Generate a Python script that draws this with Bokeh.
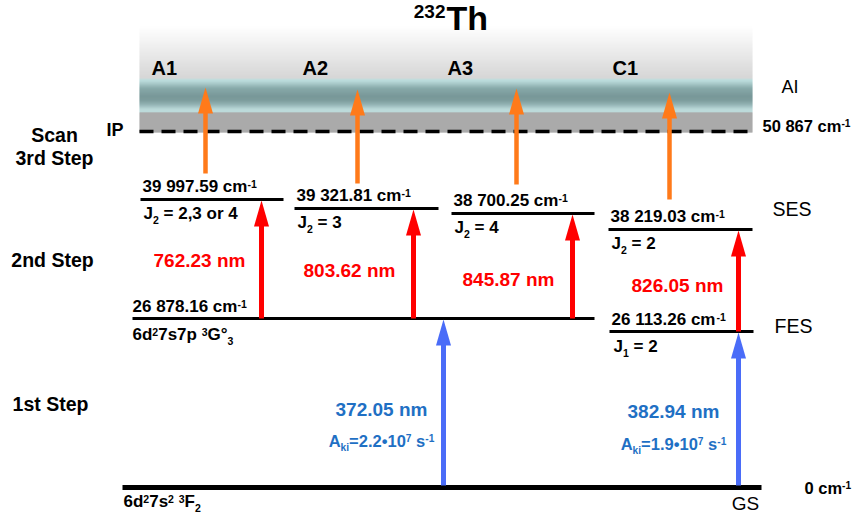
from bokeh.plotting import figure
from bokeh.models import Range1d, ColumnDataSource
from bokeh.core.properties import value
from bokeh.embed import file_html
from bokeh.resources import INLINE
import numpy as np

# ---------------- data ----------------
element_mass = "232"
element = "Th"
ip_energy = "50 867"
gs_energy = "0"
schemes = ["A1", "A2", "A3", "C1"]
ses_energy = ["39 997.59", "39 321.81", "38 700.25", "38 219.03"]
ses_j = ["2,3 or 4", "3", "4", "2"]
step2_nm = ["762.23", "803.62", "845.87", "826.05"]
fes_energy = ["26 878.16", "26 113.26"]
step1_nm = ["372.05", "382.94"]
step1_aki = ["2.2", "1.9"]
step_names = ["Scan", "3rd Step", "2nd Step", "1st Step"]
state_names = ["AI", "SES", "FES", "GS"]

# ---------------- layout (schematic, screen px) ----------------
SES_Y = [199, 208, 213, 229]
SES_X0 = [140, 294, 451, 608]
SES_X1 = [283, 438, 594, 752]
FES_Y = [318, 331]
FES_X0 = [132, 609]
FES_X1 = [594, 753]
SCHEME_FES = [0, 0, 0, 1]
GS_Y, GS_X0, GS_X1 = 487, 122, 761
IP_Y, BAND_X0, BAND_X1 = 131, 139, 752
RED_X = [261, 413, 572, 738]
ORANGE_X = [205, 357, 516, 669]
ORANGE_B = [173, 183, 184, 199]
ORANGE_T = [87, 89, 88, 92]
BLUE_X = [443, 738]
BLUE_FES = [0, 1]
RED_LBL = [(199, 268), (349, 278), (508, 287), (677, 293)]
BLUE_LBL = [(381, 417, 447), (673, 419, 450)]
SCHEME_LBL_X = [151, 302, 447, 612]

RED = "#ff0000"
ORANGE = "#ff7a1a"
BLUE = "#4a6cf8"
BLUE_TXT = "#1f70c4"
FONT = "Liberation Sans"
BASE_FIX = 0.4  # empirical baseline correction of the svg text renderer

W = {' ': 278, '.': 278, ',': 278, '=': 584, '-': 333, '•': 350, '°': 400,
     'A': 722, 'C': 722, 'F': 611, 'G': 778, 'I': 278, 'J': 556, 'P': 667, 'S': 667,
     'T': 611, 'c': 556, 'd': 611, 'e': 556, 'h': 611, 'i': 278, 'k': 556, 'm': 889,
     'n': 611, 'o': 611, 'p': 611, 'r': 389, 's': 556, 't': 333}
for d in "0123456789":
    W[d] = 556


def tw(s, size):
    return sum(W.get(ch, 556) for ch in s) / 1000.0 * size


p = figure(width=856, height=519, x_range=Range1d(0, 856), y_range=Range1d(519, 0),
           output_backend="svg", toolbar_location=None, x_axis_type=None, y_axis_type=None,
           min_border=0, outline_line_color=None, background_fill_color="white")
p.grid.visible = False

# ---------------- gradient band (AI continuum) ----------------
stops_y = [26, 78, 79, 81, 88, 96, 100, 104, 109, 112, 112.01, 132]
stops_c = [(255, 255, 255), (200, 200, 200), (170, 212, 212), (160, 204, 204), (96, 140, 140),
           (76, 118, 119), (82, 124, 125), (110, 152, 153), (165, 205, 205), (165, 205, 205),
           (142, 142, 142), (142, 142, 142)]
ys = np.arange(26, 132, 1.0)
cols = []
for yv in ys:
    c = [np.interp(yv + 0.5, stops_y, [s[k] for s in stops_c]) for k in range(3)]
    cols.append("#%02x%02x%02x" % tuple(int(round(v)) for v in c))
p.quad(left=BAND_X0, right=BAND_X1, top=ys, bottom=ys + 1.05, fill_color=cols, line_color=None)

# IP dashed line
p.segment(x0=[BAND_X0], y0=[IP_Y], x1=[BAND_X1], y1=[IP_Y], line_color="black",
          line_width=3.5, line_dash="14 8")

# ---------------- level lines ----------------
p.segment(x0=SES_X0, y0=SES_Y, x1=SES_X1, y1=SES_Y, line_color="black", line_width=3)
p.segment(x0=FES_X0, y0=FES_Y, x1=FES_X1, y1=FES_Y, line_color="black", line_width=3)
p.segment(x0=[GS_X0], y0=[GS_Y], x1=[GS_X1], y1=[GS_Y], line_color="black", line_width=5)

# ---------------- arrows ----------------
HEAD_W, HEAD_L, SHAFT = 15, 26, 5


def arrows(xs, y_from, y_to, color, shaft=SHAFT):
    p.segment(x0=xs, y0=y_from, x1=xs, y1=[t + HEAD_L - 1 for t in y_to],
              line_color=color, line_width=shaft, line_cap="butt")
    px = [[x - HEAD_W / 2, x + HEAD_W / 2, x] for x in xs]
    py = [[t + HEAD_L, t + HEAD_L, t] for t in y_to]
    p.patches(xs=px, ys=py, fill_color=color, line_color=None)


arrows(ORANGE_X, ORANGE_B, ORANGE_T, ORANGE, shaft=4.5)
arrows(RED_X, [FES_Y[f] for f in SCHEME_FES], [y + 1 for y in SES_Y], RED)
arrows(BLUE_X, [GS_Y - 2] * 2, [FES_Y[f] + 1 for f in BLUE_FES], BLUE)

# ---------------- rich text helper ----------------
rich_bold = dict(x=[], y=[], text=[], size=[], color=[])
rich_norm = dict(x=[], y=[], text=[], size=[], color=[])


def rich(x, y, segs, size, color="black", align="left", bold=True):
    parts = []
    for s, kind in segs:
        if kind == "n":
            parts.append((s, size, 0.0))
        elif kind == "sup":
            parts.append((s, size * 0.62, -0.34 * size))
        else:
            parts.append((s, size * 0.62, 0.22 * size))
    total = sum(tw(s, sz) for s, sz, _ in parts)
    cx = x - total / 2 if align == "center" else (x - total if align == "right" else x)
    tgt = rich_bold if bold else rich_norm
    for s, sz, dy in parts:
        lead = len(s) - len(s.lstrip(" "))
        core = s.strip(" ")
        if core:
            tgt["x"].append(cx + tw(" " * lead, sz))
            tgt["y"].append(y + dy - BASE_FIX * sz)
            tgt["text"].append(core)
            tgt["size"].append("%.1fpx" % sz)
            tgt["color"].append(color)
        cx += tw(s, sz)


# title
rich(446, 31, [(element, "n")], 34)
rich(445, 19, [(element_mass, "n")], 19, align="right")

# scheme labels
for i, s in enumerate(schemes):
    rich(SCHEME_LBL_X[i], 75, [(s, "n")], 20)

# SES labels
for i in range(4):
    rich(SES_X0[i] + 2, SES_Y[i] - 6, [(ses_energy[i] + " cm", "n"), ("-1", "sup")], 17)
    rich(SES_X0[i] + 3, SES_Y[i] + 21, [("J", "n"), ("2", "sub"), (" = " + ses_j[i], "n")], 17)

# FES labels
rich(FES_X0[0], FES_Y[0] - 5, [(fes_energy[0] + " cm", "n"), ("-1", "sup")], 17)
rich(FES_X0[0], FES_Y[0] + 23, [("6d", "n"), ("2", "sup"), ("7s7p ", "n"), ("3", "sup"),
                                 ("G°", "n"), ("3", "sub")], 17)
rich(FES_X0[1] + 2, FES_Y[1] - 5, [(fes_energy[1] + " cm", "n"), ("-1", "sup")], 17)
rich(FES_X0[1] + 4, FES_Y[1] + 22, [("J", "n"), ("1", "sub"), (" = 2", "n")], 17)

# GS term
rich(GS_X0 + 1, 508, [("6d", "n"), ("2", "sup"), ("7s", "n"), ("2", "sup"), (" ", "n"),
                      ("3", "sup"), ("F", "n"), ("2", "sub")], 17)

# wavelengths
for i in range(4):
    rich(RED_LBL[i][0], RED_LBL[i][1], [(step2_nm[i] + " nm", "n")], 19, color=RED, align="center")
for i in range(2):
    cx, yb, ya = BLUE_LBL[i]
    rich(cx, yb, [(step1_nm[i] + " nm", "n")], 19, color=BLUE_TXT, align="center")
    rich(cx, ya, [("A", "n"), ("ki", "sub"), ("=" + step1_aki[i] + "•10", "n"), ("7", "sup"),
                  (" s", "n"), ("-1", "sup")], 16.5, color=BLUE_TXT, align="center")

# energies at right
rich(762, 132, [(ip_energy + " cm", "n"), ("-1", "sup")], 16.5)
rich(804, 494, [(gs_energy + " cm", "n"), ("-1", "sup")], 16.5)
rich(106, 137, [("IP", "n")], 18)

# step names
rich(54, 142, [(step_names[0], "n")], 19.5, align="center")
rich(54, 165, [(step_names[1], "n")], 19.5, align="center")
rich(52, 267, [(step_names[2], "n")], 19.5, align="center")
rich(50, 411, [(step_names[3], "n")], 19.5, align="center")

# state names (regular weight)
rich(781, 94, [(state_names[0], "n")], 18, bold=False)
rich(772, 216, [(state_names[1], "n")], 19.5, bold=False)
rich(774, 333, [(state_names[2], "n")], 19.5, bold=False)
rich(745, 511, [(state_names[3], "n")], 19, align="center", bold=False)

p.text(x="x", y="y", text="text", text_font_size="size", text_color="color",
       source=ColumnDataSource(rich_bold), text_font=value(FONT), text_font_style="bold",
       text_baseline="alphabetic", text_align="left")
p.text(x="x", y="y", text="text", text_font_size="size", text_color="color",
       source=ColumnDataSource(rich_norm), text_font=value(FONT), text_font_style="normal",
       text_baseline="alphabetic", text_align="left")

open("out.html", "w").write(file_html(p, INLINE))
